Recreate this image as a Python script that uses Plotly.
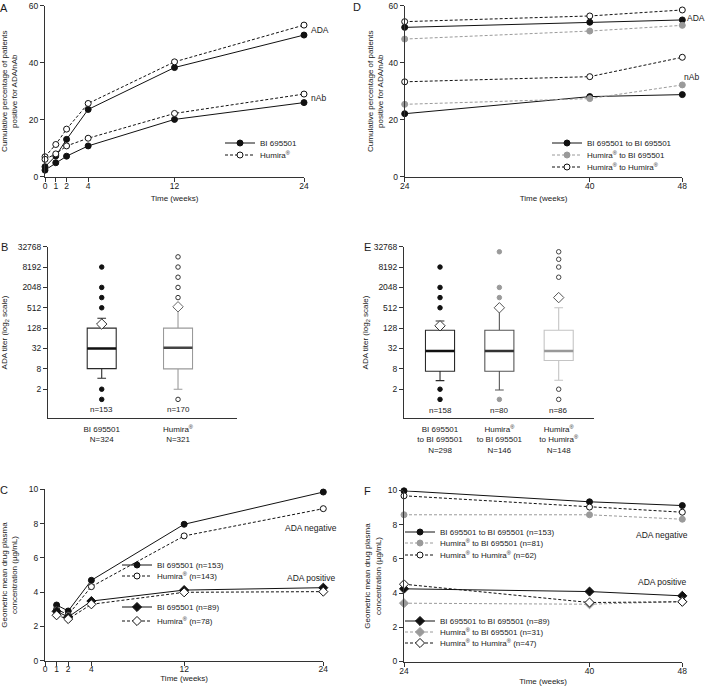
import plotly.graph_objects as go

# ---------------- DATA ----------------
weeks_a = [0, 1, 2, 4, 12, 24]
a_bi_ada = [3.5, 7.3, 13.1, 23.6, 38.3, 49.7]
a_hum_ada = [7.0, 11.3, 16.7, 25.7, 40.3, 53.2]
a_bi_nab = [2.3, 4.9, 7.2, 10.8, 20.1, 26.0]
a_hum_nab = [6.1, 8.0, 10.8, 13.5, 22.2, 29.0]

weeks_d = [24, 40, 48]
d_bb_ada = [52.4, 54.2, 55.0]
d_hb_ada = [48.3, 51.1, 53.1]
d_hh_ada = [54.4, 56.4, 58.5]
d_bb_nab = [22.1, 28.1, 28.8]
d_hb_nab = [25.4, 27.4, 32.2]
d_hh_nab = [33.3, 35.1, 41.9]

weeks_c = [1, 2, 4, 12, 24]
c_bi_neg = [3.25, 2.90, 4.69, 7.96, 9.84]
c_hum_neg = [3.00, 2.68, 4.32, 7.28, 8.87]
c_bi_pos = [2.88, 2.55, 3.48, 4.12, 4.26]
c_hum_pos = [2.65, 2.43, 3.29, 3.99, 4.03]

weeks_f = [24, 40, 48]
f_bb_neg = [9.98, 9.34, 9.12]
f_hb_neg = [8.58, 8.58, 8.32]
f_hh_neg = [9.69, 9.03, 8.73]
f_bb_pos = [4.25, 4.09, 3.84]
f_hb_pos = [3.41, 3.35, 3.51]
f_hh_pos = [4.52, 3.45, 3.49]

titer_ticks = [2, 8, 32, 128, 512, 2048, 8192, 32768]
titer_ticktext = ["2", "8", "32", "128", "512", "2048", "8192", "32768"]

b_labels = ["BI 695501<br>N=324", "Humira<sup>®</sup><br>N=321"]
b_n = ["n=153", "n=170"]
b_q1 = [8.1, 8.0]
b_median = [32, 33.6]
b_q3 = [128, 128]
b_low = [4.2, 2.0]
b_high = [250, 512]
b_mean = [169, 548]
b_out_bi = [8192, 2048, 1024, 512, 2, 1]
b_out_hum = [32768, 16384, 8192, 4096, 2048, 1024, 1]

e_labels = ["BI 695501<br>to BI 695501<br>N=298",
            "Humira<sup>®</sup><br>to BI 695501<br>N=146",
            "Humira<sup>®</sup><br>to Humira<sup>®</sup><br>N=148"]
e_n = ["n=158", "n=80", "n=86"]
e_q1 = [6.8, 6.8, 14.1]
e_median = [27, 27, 27]
e_q3 = [111, 111, 111]
e_low = [3.6, 1.9, 3.7]
e_high = [207, 512, 512]
e_mean = [150, 512, 1024]
e_out_bb = [8192, 2048, 1024, 512, 2, 1]
e_out_hb = [23170, 2048, 1024, 1]
e_out_hh = [23170, 13900, 8192, 4096, 1024, 2, 1]

# ---------------- STYLE ----------------
W, H = 708, 688
FONT = "Liberation Sans, Arial, sans-serif"
TXT = "#1a1a1a"
BLACK = "#111111"
GRAY = "#9a9a9a"
DASH = "3px,2px"
LEG_TEXT_OFFSET = 40


def px(x):
    return x / W


def py(y):
    return 1 - y / H


fig = go.Figure()

leg_count = [0]
legends = {}


def add_line(x, y, xa, ya, color, dash, symbol, mfill, name=None, leg_pos=None):
    show = name is not None
    legname = None
    if show:
        leg_count[0] += 1
        n = leg_count[0]
        legname = "legend" if n == 1 else f"legend{n}"
        tx, ty = leg_pos
        legends[legname] = dict(
            x=px(tx - LEG_TEXT_OFFSET), y=py(ty), xanchor="left", yanchor="middle",
            bgcolor="rgba(0,0,0,0)", borderwidth=0,
            font=dict(size=8, family=FONT, color=TXT), itemwidth=30,
            tracegroupgap=0)
    tr = go.Scatter(
        x=x, y=y, xaxis=xa, yaxis=ya, mode="lines+markers",
        line=dict(color=color, width=1, dash=dash),
        marker=dict(symbol=symbol, size=6 if symbol == "circle" else 7,
                    color=mfill, line=dict(color=color, width=1)),
        name=name if name else "", showlegend=show, cliponaxis=False,
        hoverinfo="skip")
    if show:
        tr.legend = legname
    fig.add_trace(tr)


# Panel A
add_line(weeks_a, a_bi_ada, "x", "y", BLACK, "solid", "circle", BLACK, "BI 695501", (260, 143))
add_line(weeks_a, a_hum_ada, "x", "y", BLACK, DASH, "circle", "white", "Humira<sup>®</sup>", (260, 155))
add_line(weeks_a, a_bi_nab, "x", "y", BLACK, "solid", "circle", BLACK)
add_line(weeks_a, a_hum_nab, "x", "y", BLACK, DASH, "circle", "white")

# Panel D
add_line(weeks_d, d_bb_ada, "x4", "y4", BLACK, "solid", "circle", BLACK, "BI 695501 to BI 695501", (587, 143))
add_line(weeks_d, d_hb_ada, "x4", "y4", GRAY, DASH, "circle", GRAY, "Humira<sup>®</sup> to BI 695501", (587, 155))
add_line(weeks_d, d_hh_ada, "x4", "y4", BLACK, DASH, "circle", "white", "Humira<sup>®</sup> to Humira<sup>®</sup>", (587, 167))
add_line(weeks_d, d_bb_nab, "x4", "y4", BLACK, "solid", "circle", BLACK)
add_line(weeks_d, d_hb_nab, "x4", "y4", GRAY, DASH, "circle", GRAY)
add_line(weeks_d, d_hh_nab, "x4", "y4", BLACK, DASH, "circle", "white")

# Panel C
add_line(weeks_c, c_bi_neg, "x3", "y3", BLACK, "solid", "circle", BLACK, "BI 695501 (n=153)", (157, 565))
add_line(weeks_c, c_hum_neg, "x3", "y3", BLACK, DASH, "circle", "white", "Humira<sup>®</sup> (n=143)", (157, 576))
add_line(weeks_c, c_bi_pos, "x3", "y3", BLACK, "solid", "diamond", BLACK, "BI 695501 (n=89)", (157, 607))
add_line(weeks_c, c_hum_pos, "x3", "y3", BLACK, DASH, "diamond", "white", "Humira<sup>®</sup> (n=78)", (157, 621))

# Panel F
add_line(weeks_f, f_bb_neg, "x6", "y6", BLACK, "solid", "circle", BLACK, "BI 695501 to BI 695501 (n=153)", (440, 532))
add_line(weeks_f, f_hb_neg, "x6", "y6", GRAY, DASH, "circle", GRAY, "Humira<sup>®</sup> to BI 695501 (n=81)", (440, 543))
add_line(weeks_f, f_hh_neg, "x6", "y6", BLACK, DASH, "circle", "white", "Humira<sup>®</sup> to Humira<sup>®</sup> (n=62)", (440, 555))
add_line(weeks_f, f_bb_pos, "x6", "y6", BLACK, "solid", "diamond", BLACK, "BI 695501 to BI 695501 (n=89)", (440, 621))
add_line(weeks_f, f_hb_pos, "x6", "y6", GRAY, DASH, "diamond", GRAY, "Humira<sup>®</sup> to BI 695501 (n=31)", (440, 632))
add_line(weeks_f, f_hh_pos, "x6", "y6", BLACK, DASH, "diamond", "white", "Humira<sup>®</sup> to Humira<sup>®</sup> (n=47)", (440, 643))


# ---------------- BOX PANELS ----------------
def add_box(xa, ya, i, q1, med, q3, lo, hi, mean, outliers, width,
            line_c, med_c, out_fill, out_line, mean_c):
    fig.add_trace(go.Box(
        x=[i], q1=[q1], median=[med], q3=[q3], lowerfence=[lo], upperfence=[hi],
        xaxis=xa, yaxis=ya, width=width, whiskerwidth=0.3, fillcolor="white",
        line=dict(color=line_c, width=1.1), boxpoints=False, showlegend=False,
        hoverinfo="skip"))
    fig.add_trace(go.Box(
        x=[i], q1=[med], median=[med], q3=[med], lowerfence=[med], upperfence=[med],
        xaxis=xa, yaxis=ya, width=width, whiskerwidth=0, fillcolor="rgba(0,0,0,0)",
        line=dict(color=med_c, width=2.4), boxpoints=False, showlegend=False,
        hoverinfo="skip"))
    fig.add_trace(go.Scatter(
        x=[i] * len(outliers), y=outliers, xaxis=xa, yaxis=ya, mode="markers",
        marker=dict(symbol="circle", size=4.5, color=out_fill, line=dict(color=out_line, width=1)),
        showlegend=False, cliponaxis=False, hoverinfo="skip"))
    fig.add_trace(go.Scatter(
        x=[i], y=[mean], xaxis=xa, yaxis=ya, mode="markers",
        marker=dict(symbol="diamond", size=8, color="white", line=dict(color=mean_c, width=1)),
        showlegend=False, cliponaxis=False, hoverinfo="skip"))


add_box("x2", "y2", 0, b_q1[0], b_median[0], b_q3[0], b_low[0], b_high[0], b_mean[0],
        b_out_bi, 0.38, "#2a2a2a", "#111111", BLACK, BLACK, "#333333")
add_box("x2", "y2", 1, b_q1[1], b_median[1], b_q3[1], b_low[1], b_high[1], b_mean[1],
        b_out_hum, 0.38, "#9a9a9a", "#444444", "white", "#333333", "#666666")

add_box("x5", "y5", 0, e_q1[0], e_median[0], e_q3[0], e_low[0], e_high[0], e_mean[0],
        e_out_bb, 0.49, "#2a2a2a", "#111111", BLACK, BLACK, "#333333")
add_box("x5", "y5", 1, e_q1[1], e_median[1], e_q3[1], e_low[1], e_high[1], e_mean[1],
        e_out_hb, 0.49, "#555555", "#333333", GRAY, GRAY, "#555555")
add_box("x5", "y5", 2, e_q1[2], e_median[2], e_q3[2], e_low[2], e_high[2], e_mean[2],
        e_out_hh, 0.49, "#c4c4c4", "#999999", "white", "#444444", "#555555")

# ---------------- AXES ----------------
tickfont = dict(size=8.5, family=FONT, color=TXT)
titlefont = dict(size=8, family=FONT, color=TXT)
base_ax = dict(showgrid=False, zeroline=False, showline=True, linecolor="#333333",
               linewidth=1, ticks="outside", ticklen=4, tickwidth=1, tickcolor="#333333",
               tickfont=tickfont, fixedrange=True, automargin=False)


def xax(dom, rng, **kw):
    d = dict(base_ax)
    d.update(domain=[px(dom[0]), px(dom[1])], range=rng, ticklabelstandoff=-3)
    d.update(kw)
    return d


def yax(dom, rng, anchor, **kw):
    d = dict(base_ax)
    d.update(domain=[py(dom[1]), py(dom[0])], range=rng, anchor=anchor)
    d.update(kw)
    return d


def time_title(s):
    return dict(text="Time (weeks)", font=titlefont, standoff=s)


def cum_title(s):
    return dict(text="Cumulative percentage of patients<br>positive for ADA/nAb",
                font=titlefont, standoff=s)


def titer_title(s):
    return dict(text="ADA titer (log<sub>2</sub> scale)", font=titlefont, standoff=s)


def conc_title(s):
    return dict(text="Geometric mean drug plasma<br>concentration (µg/mL)",
                font=titlefont, standoff=s)


log_rng = [-0.559, 4.515]

fig.update_layout(
    width=W, height=H, margin=dict(l=0, r=0, t=0, b=0, autoexpand=False),
    paper_bgcolor="white", plot_bgcolor="white",
    font=dict(family=FONT, color=TXT, size=8),
    boxmode="overlay",
    xaxis=xax((45, 304), [0, 24], anchor="y", tickvals=weeks_a, title=time_title(5)),
    yaxis=yax((5.7, 176.7), [0, 60], "x", tickvals=[0, 20, 40, 60], title=cum_title(15)),
    xaxis4=xax((404.7, 682.3), [24, 48], anchor="y4", tickvals=[24, 40, 48], title=time_title(5)),
    yaxis4=yax((5.7, 176.7), [0, 60], "x4", tickvals=[0, 20, 40, 60], title=cum_title(3)),
    xaxis3=xax((45, 323.3), [0, 24], anchor="y3", tickvals=[0] + weeks_c, title=time_title(0),
               ticklabelstandoff=-4),
    yaxis3=yax((489.3, 660.7), [0, 10], "x3", tickvals=[0, 2, 4, 6, 8, 10], title=conc_title(10)),
    xaxis6=xax((404, 682.3), [24, 48], anchor="y6", tickvals=weeks_f, title=time_title(3)),
    yaxis6=yax((490.5, 661.5), [0, 10], "x6", tickvals=[0, 2, 4, 6, 8, 10], title=conc_title(5)),
    xaxis2=xax((48, 237), [-0.704, 1.773], anchor="y2", tickvals=[0, 1], ticktext=b_labels,
               ticks="", ticklabelstandoff=3, tickfont=dict(size=8, family=FONT, color=TXT)),
    yaxis2=yax((246.7, 418.3), log_rng, "x2", type="log", tickvals=titer_ticks,
               ticktext=titer_ticktext, title=titer_title(17)),
    xaxis5=xax((404, 594), [-0.607, 2.595], anchor="y5", tickvals=[0, 1, 2], ticktext=e_labels,
               ticks="", ticklabelstandoff=3, tickfont=dict(size=8, family=FONT, color=TXT)),
    yaxis5=yax((246.7, 418.3), log_rng, "x5", type="log", tickvals=titer_ticks,
               ticktext=titer_ticktext, title=titer_title(3)),
    **legends,
)

# ---------------- ANNOTATIONS ----------------
ann = []
letter_font = dict(size=11, family=FONT, color=TXT)
for t, x, y in [("A", 4, 8), ("B", 4, 247), ("C", 4, 490), ("D", 357, 7), ("E", 367, 247), ("F", 367, 491)]:
    ann.append(dict(text=t, x=px(x), y=py(y), xref="paper", yref="paper", showarrow=False,
                    xanchor="center", yanchor="middle", font=letter_font))
lab_font = dict(size=8.5, family=FONT, color=TXT)
for t, x, y, anc in [("ADA", 320, 30, "center"), ("nAb", 318, 98, "center"),
                     ("ADA", 686, 18, "left"), ("nAb", 683, 77, "left"),
                     ("ADA negative", 311, 528, "center"), ("ADA positive", 311, 578, "center"),
                     ("ADA negative", 662, 535, "center"), ("ADA positive", 662, 582, "center")]:
    ann.append(dict(text=t, x=px(x), y=py(y), xref="paper", yref="paper", showarrow=False,
                    xanchor=anc, yanchor="middle", font=lab_font, borderpad=0))
for i, t in enumerate(b_n):
    ann.append(dict(text=t, x=i, xref="x2", y=py(410), yref="paper", showarrow=False,
                    xanchor="center", yanchor="middle", font=dict(size=8, family=FONT, color=TXT)))
for i, t in enumerate(e_n):
    ann.append(dict(text=t, x=i, xref="x5", y=py(410.5), yref="paper", showarrow=False,
                    xanchor="center", yanchor="middle", font=dict(size=8, family=FONT, color=TXT)))
fig.update_layout(annotations=ann)

fig.write_html("out.html", config={"displayModeBar": False},
               post_script="document.body.style.margin='0';document.body.style.padding='0';")
